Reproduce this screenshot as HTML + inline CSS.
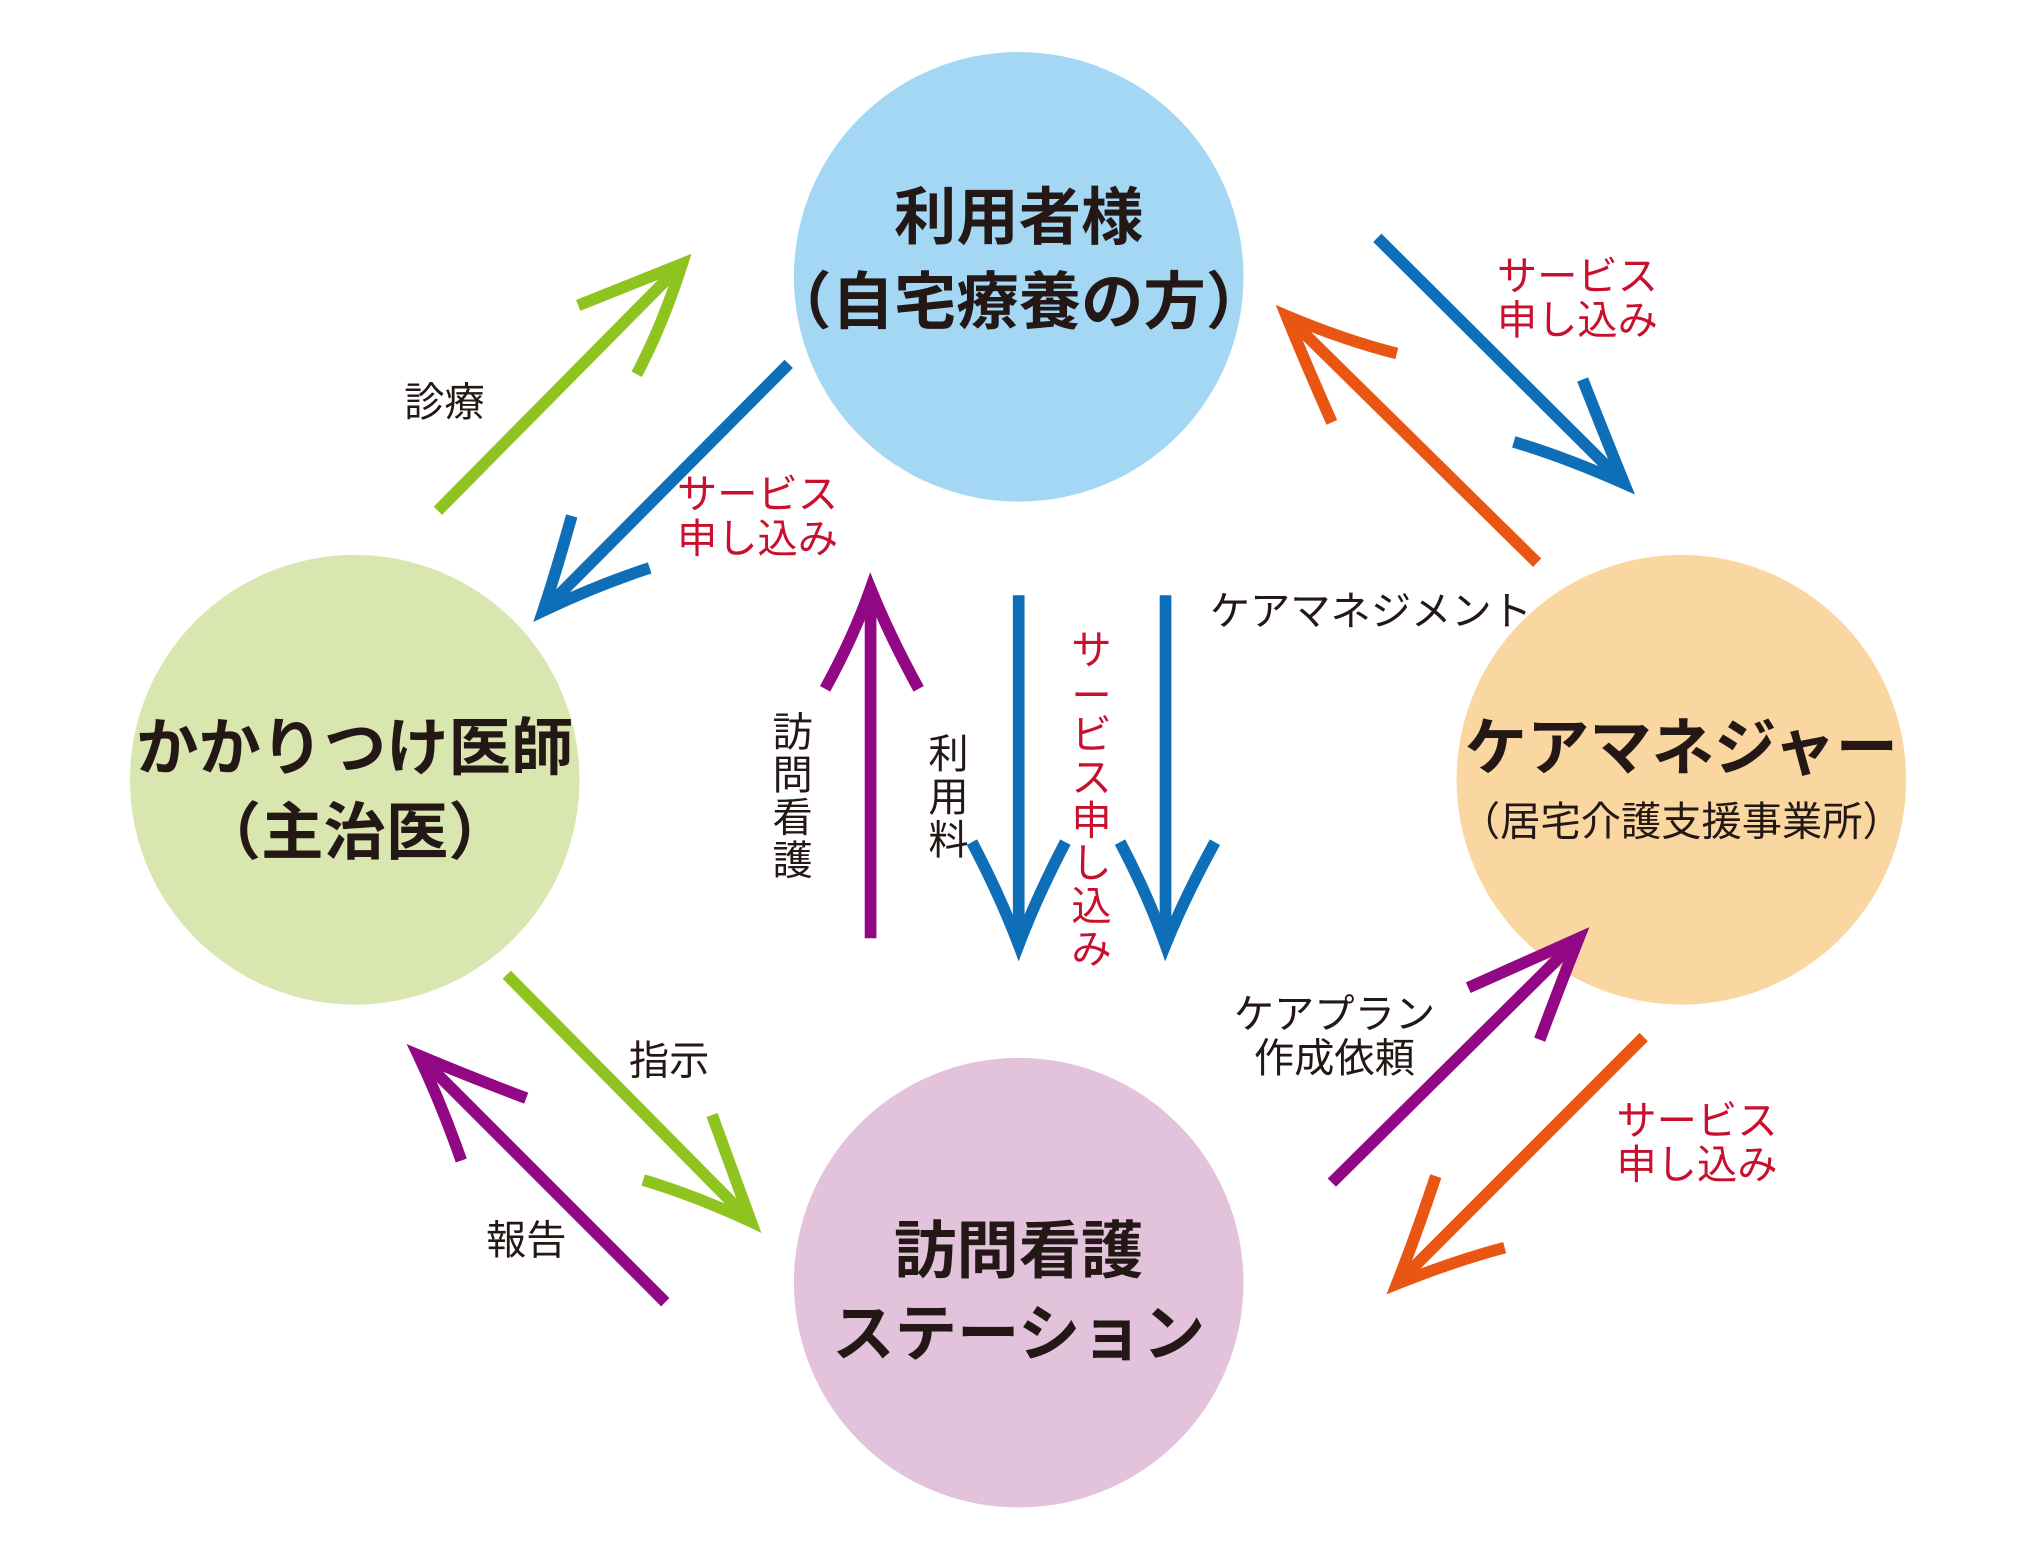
<!DOCTYPE html>
<html><head><meta charset="utf-8"><style>
html,body{margin:0;padding:0;background:#fff}
svg{display:block}
text{font-family:"Liberation Sans","Noto Sans CJK JP",sans-serif;fill:#231815}
.b{font-weight:600;font-size:48px}
.s{font-size:31px}
.r{fill:#c8102e;font-size:31px}
</style></head><body>
<svg width="2027" height="1553" viewBox="0 0 1560 1195" preserveAspectRatio="none" xmlns="http://www.w3.org/2000/svg">
<circle cx="784" cy="213" r="173" fill="#a3d7f4"/>
<circle cx="273" cy="600" r="173" fill="#d9e6b0"/>
<circle cx="1294" cy="600" r="173" fill="#fad7a0"/>
<circle cx="784" cy="987" r="173" fill="#e3c2dc"/>
<g fill="none" stroke-width="9" stroke-linecap="butt">
<g stroke="#8fc31f">
<path d="M337,393 L522,206"/><path d="M445,235 Q495,215 525,203 Q510,250 490,288"/>
<path d="M390,750 L575,937"/><path d="M548,858 Q565,905 578,940 Q535,920 495,908"/>
</g>
<g stroke="#0e6eb8">
<path d="M607,280 L421,467"/><path d="M440,397 Q428,440 418,470 Q460,450 500,437"/>
<path d="M1060,183 L1247,369"/><path d="M1218,292 Q1235,335 1250,372 Q1205,352 1165,340"/>
<path d="M784,458 L784,724"/><path d="M748,648 Q770,690 784,727 Q798,690 820,648"/>
<path d="M897,458 L897,724"/><path d="M862,648 Q884,690 897,727 Q912,690 935,648"/>
</g>
<g stroke="#e95513">
<path d="M1183,433 L993,246"/><path d="M1025,325 Q1005,280 990,243 Q1035,262 1075,272"/>
<path d="M1265,798 L1078,985"/><path d="M1105,905 Q1090,950 1075,988 Q1120,970 1158,960"/>
</g>
<g stroke="#920783">
<path d="M670,722 L670,456"/><path d="M635,530 Q657,490 670,453 Q685,490 707,530"/>
<path d="M1025,910 L1212,725"/><path d="M1130,760 Q1175,740 1215,722 Q1198,765 1185,800"/>
<path d="M512,1002 L325,815"/><path d="M355,893 Q340,850 322,812 Q365,830 405,845"/>
</g>
</g>
<g text-anchor="middle">
<text class="b" x="784" y="184">利用者様</text>
<text class="b" x="784" y="249">（自宅療養の方）</text>
<text class="b" x="273" y="592">かかりつけ医師</text>
<text class="b" x="273" y="657">（主治医）</text>
<text class="b" x="1294" y="592">ケアマネジャー</text>
<text x="1294" y="643" style="font-size:31px">（居宅介護支援事業所）</text>
<text class="b" x="784" y="979">訪問看護</text>
<text class="b" x="784" y="1043">ステーション</text>
<text class="s" x="342" y="320">診療</text>
<text class="r" x="583" y="391">サービス</text><text class="r" x="583" y="425">申し込み</text>
<text class="r" x="1214" y="223">サービス</text><text class="r" x="1214" y="257">申し込み</text>
<text class="r" x="1306" y="873">サービス</text><text class="r" x="1306" y="907">申し込み</text>
<text class="s" x="1055" y="481">ケアマネジメント</text>
<text class="s" x="1027" y="791">ケアプラン</text>
<text class="s" x="1027" y="825">作成依頼</text>
<text class="s" x="515" y="827">指示</text>
<text class="s" x="405" y="965">報告</text>
<text class="s" x="610" y="574">訪</text><text class="s" x="610" y="607">問</text><text class="s" x="610" y="640">看</text><text class="s" x="610" y="673">護</text>
<text class="s" x="730" y="591">利</text><text class="s" x="730" y="624">用</text><text class="s" x="730" y="657">料</text>
<text class="r" x="840" y="511">サ</text><text class="r" x="840" y="546">ー</text><text class="r" x="840" y="576">ビ</text><text class="r" x="840" y="609">ス</text><text class="r" x="840" y="642">申</text><text class="r" x="840" y="675">し</text><text class="r" x="840" y="708">込</text><text class="r" x="840" y="741">み</text>
</g>
</svg>
</body></html>
